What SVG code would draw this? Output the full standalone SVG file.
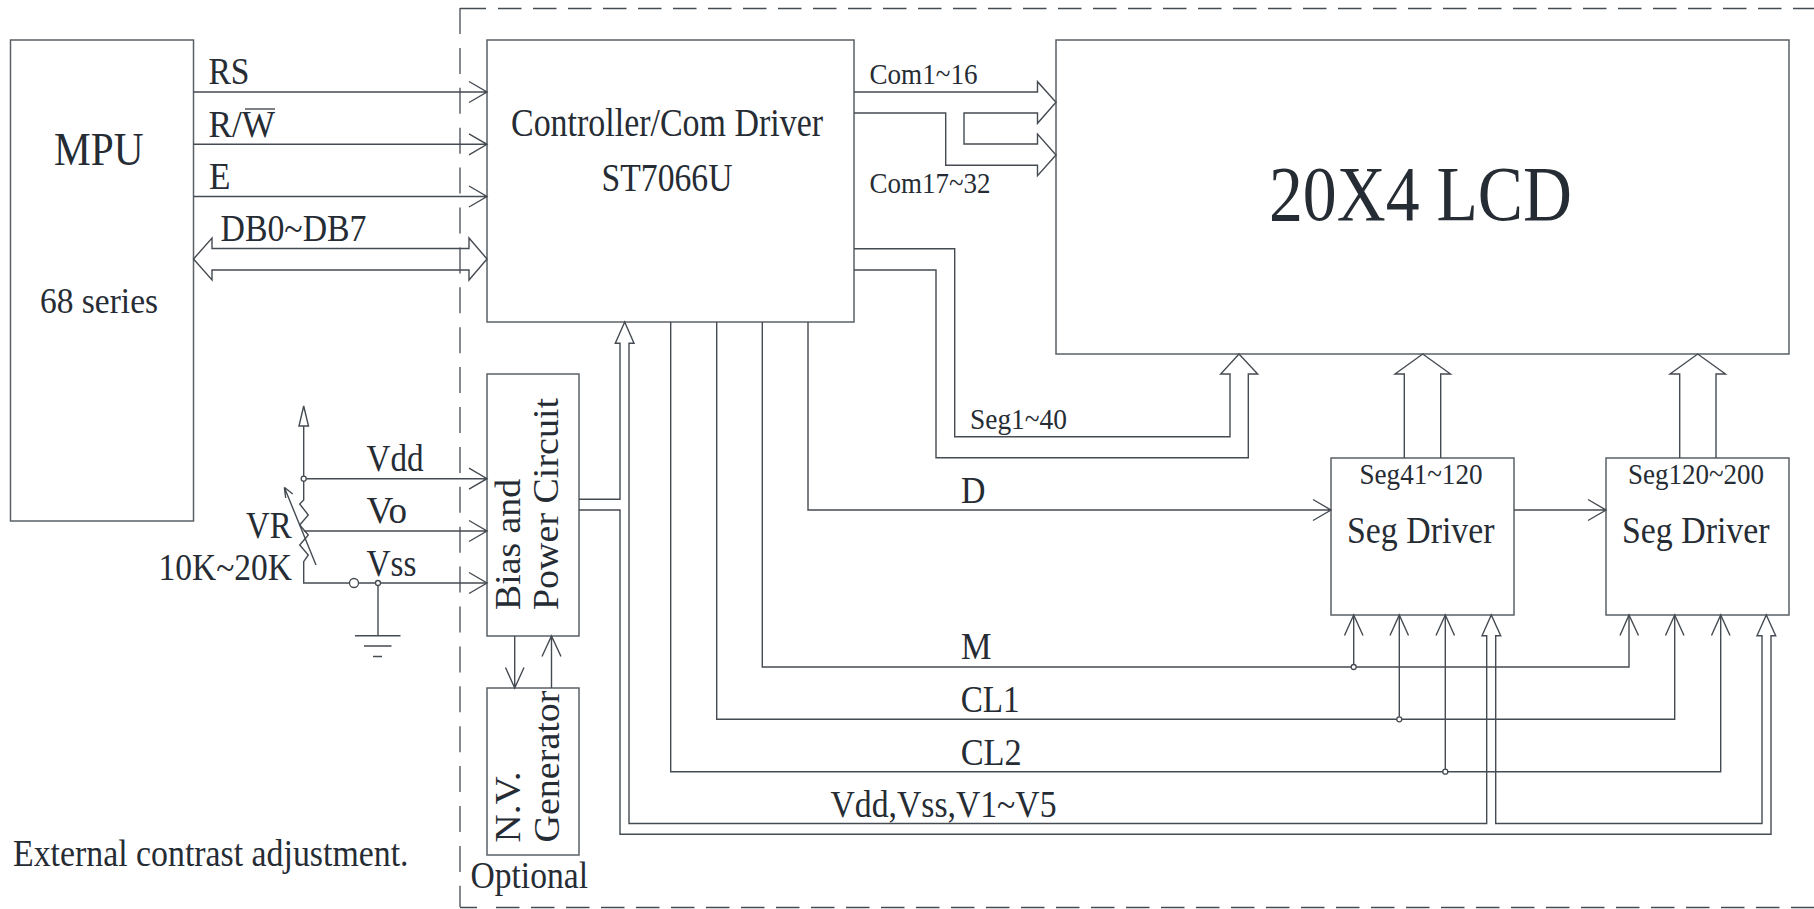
<svg xmlns="http://www.w3.org/2000/svg" width="1814" height="909" viewBox="0 0 1814 909">
<style>
text{font-family:"Liberation Serif","Times New Roman",serif;fill:#262c34}
.b{fill:#fff;stroke:#5a6066;stroke-width:1.5}
.l{fill:none;stroke:#454b52;stroke-width:1.4}
.d{fill:none;stroke:#454b52;stroke-width:1.3;stroke-dasharray:23.5 11.5}
.v{fill:none;stroke:#454b52;stroke-width:1.3;stroke-dasharray:26 13.9}
.j{fill:#fff;stroke:#454b52;stroke-width:1.3}
</style>
<rect width="1814" height="909" fill="#fff"/>
<g id="boundary">
<path class="d" d="M498 8.500H1814M496 907.500H1814"/>
<path class="l" d="M460 8.500H486M460 907.500H477"/>
<path class="v" d="M460 8V907"/>
</g>
<g id="mpu"><rect class="b" x="10.500" y="40" width="183" height="481"/>
<text x="54" y="165" font-size="47" textLength="89.500" lengthAdjust="spacingAndGlyphs">MPU</text>
<text x="40" y="312.700" font-size="36" textLength="118" lengthAdjust="spacingAndGlyphs">68 series</text></g>
<g id="controller"><rect class="b" x="487" y="40" width="367" height="282"/>
<text x="511" y="135.500" font-size="39" textLength="312" lengthAdjust="spacingAndGlyphs">Controller/Com Driver</text>
<text x="601.500" y="191" font-size="39" textLength="131" lengthAdjust="spacingAndGlyphs">ST7066U</text></g>
<g id="lcd"><rect class="b" x="1056" y="40" width="733" height="314"/>
<text x="1269" y="220" font-size="78" textLength="303" lengthAdjust="spacingAndGlyphs">20X4 LCD</text></g>
<g id="bias"><rect class="b" x="487" y="374" width="92" height="262"/>
<text transform="translate(520,610) rotate(-90)" font-size="36" textLength="131" lengthAdjust="spacingAndGlyphs">Bias and</text>
<text transform="translate(558.300,610) rotate(-90)" font-size="36" textLength="212" lengthAdjust="spacingAndGlyphs">Power Circuit</text></g>
<g id="nv"><rect class="b" x="487" y="688" width="92" height="167"/>
<text transform="translate(520,842.500) rotate(-90)" font-size="36" textLength="71" lengthAdjust="spacingAndGlyphs">N.V.</text>
<text transform="translate(559,842.500) rotate(-90)" font-size="36" textLength="152" lengthAdjust="spacingAndGlyphs">Generator</text></g>
<g id="seg1"><rect class="b" x="1331" y="458" width="183" height="157"/>
<text x="1359.500" y="483.800" font-size="30" textLength="123" lengthAdjust="spacingAndGlyphs">Seg41~120</text>
<text x="1347" y="543.300" font-size="37" textLength="147.500" lengthAdjust="spacingAndGlyphs">Seg Driver</text></g>
<g id="seg2"><rect class="b" x="1606" y="458" width="183" height="157"/>
<text x="1628" y="483.800" font-size="30" textLength="136" lengthAdjust="spacingAndGlyphs">Seg120~200</text>
<text x="1622" y="543.300" font-size="37" textLength="147.500" lengthAdjust="spacingAndGlyphs">Seg Driver</text></g>
<g id="connectors">
<path class="l" d="M193.500 92H487M469 81.500L487 92L469 102.500M193.500 144.300H487M469 133.800L487 144.300L469 154.800M193.500 196.500H487M469 186L487 196.500L469 207"/>
<path class="l" d="M212 248.500H469V238L487 259L469 280V270H212V280L193.500 259L212 238Z"/>
<path class="l" d="M854 92H1037.500V81.700L1056 102.300L1037.500 123.300V113H964V144H1037.500V134L1056 155L1037.500 175.700V165.300H945.700V113H854"/>
<path class="l" d="M854 248.700H954.700V436.700H1230V374H1220.700L1239 354L1257.700 374H1248.300V457.700H936V270H854"/>
<path class="l" d="M1404.300 458V374H1395L1422.700 354L1450.500 374H1440.700V458M1679.700 458V374H1670L1697.700 354L1725.500 374H1716V458"/>
<path class="l" d="M808 322V510H1331M1313 499.500L1331 510L1313 520.500M1514 510H1606M1588 499.500L1606 510L1588 520.500"/>
<path class="l" d="M762.300 322V667H1629V615M716.700 322V719.300H1674.700V615M670.700 322V771.700H1720.700V615M1353.700 667V615M1399.300 719.300V615M1445.300 771.700V615"/>
<path class="l" d="M1344.500 635.500L1353.700 615L1363 635.500M1390 635.500L1399.300 615L1408.500 635.500M1436 635.500L1445.300 615L1454.500 635.500M1620 635.500L1629 615L1638.500 635.500M1665.500 635.500L1674.700 615L1684 635.500M1711.500 635.500L1720.700 615L1730 635.500"/>
<path class="l" d="M579 499.300H620V343.300H615.300L624.700 322L634 343.300H629V823.500H1486.700V635.700H1482L1491.300 615L1500.700 635.700H1495.700V823.500H1762V635.700H1757L1766.300 615L1775.700 635.700H1771V834.300H620V510H579"/>
<path class="l" d="M303.700 426V500L299.700 504L308.300 515L299.700 525L308.300 535L299.700 545L308.300 555L303.700 561.700V583H487M299 426L303.700 406L308.500 426Z"/>
<path class="l" d="M303.700 478.700H487M469 468.200L487 478.700L469 489.200M303.700 531H487M469 520.500L487 531L469 541.500M469 572.500L487 583L469 593.500"/>
<path class="l" d="M316 565L284.300 487.300M284.300 487.300L292.700 494M284.300 487.300L285.700 498"/>
<path class="l" d="M378 583V635.700M355 635.700H400.500M364 646H391.500M373 656.500H382"/>
<path class="l" d="M514.700 636V688M505.500 667.500L514.700 688L524 667.500M551.500 688V636M542 656.500L551.500 636L561 656.500"/>
<g class="dots"><circle class="j" cx="303.700" cy="478.700" r="2.500"/><circle class="j" cx="354" cy="583" r="4.500"/><circle class="j" cx="378" cy="583" r="2.500"/><circle class="j" cx="1353.700" cy="667" r="2.500"/><circle class="j" cx="1399.300" cy="719.300" r="2.500"/><circle class="j" cx="1445.300" cy="771.700" r="2.500"/></g>
</g>
<g id="labels">
<text x="208.500" y="84" font-size="38" textLength="41" lengthAdjust="spacingAndGlyphs">RS</text>
<text x="208.500" y="136.500" font-size="38" textLength="66.500" lengthAdjust="spacingAndGlyphs">R/W</text>
<path class="l" d="M245 109H275"/>
<text x="209" y="188.500" font-size="38" textLength="21.500" lengthAdjust="spacingAndGlyphs">E</text>
<text x="220.500" y="240.500" font-size="38" textLength="146" lengthAdjust="spacingAndGlyphs">DB0~DB7</text>
<text x="869.500" y="84" font-size="30" textLength="108" lengthAdjust="spacingAndGlyphs">Com1~16</text>
<text x="869.500" y="193.300" font-size="30" textLength="121" lengthAdjust="spacingAndGlyphs">Com17~32</text>
<text x="970" y="428.700" font-size="30" textLength="97" lengthAdjust="spacingAndGlyphs">Seg1~40</text>
<text x="961" y="503" font-size="37" textLength="24.500" lengthAdjust="spacingAndGlyphs">D</text>
<text x="961" y="659" font-size="37" textLength="30.500" lengthAdjust="spacingAndGlyphs">M</text>
<text x="960.700" y="712" font-size="37" textLength="59" lengthAdjust="spacingAndGlyphs">CL1</text>
<text x="960.700" y="764.500" font-size="37" textLength="61" lengthAdjust="spacingAndGlyphs">CL2</text>
<text x="830.500" y="817" font-size="38" textLength="226" lengthAdjust="spacingAndGlyphs">Vdd,Vss,V1~V5</text>
<text x="366.500" y="471.300" font-size="37" textLength="57" lengthAdjust="spacingAndGlyphs">Vdd</text>
<text x="366.500" y="523.300" font-size="37" textLength="40.500" lengthAdjust="spacingAndGlyphs">Vo</text>
<text x="366.500" y="575.500" font-size="37" textLength="50" lengthAdjust="spacingAndGlyphs">Vss</text>
<text x="246" y="537.800" font-size="37" textLength="45.500" lengthAdjust="spacingAndGlyphs">VR</text>
<text x="158.500" y="579.500" font-size="37" textLength="133.500" lengthAdjust="spacingAndGlyphs">10K~20K</text>
<text x="470.500" y="887.500" font-size="38" textLength="117.500" lengthAdjust="spacingAndGlyphs">Optional</text>
<text x="13" y="866" font-size="37" textLength="395.500" lengthAdjust="spacingAndGlyphs">External contrast adjustment.</text>
</g>
</svg>
